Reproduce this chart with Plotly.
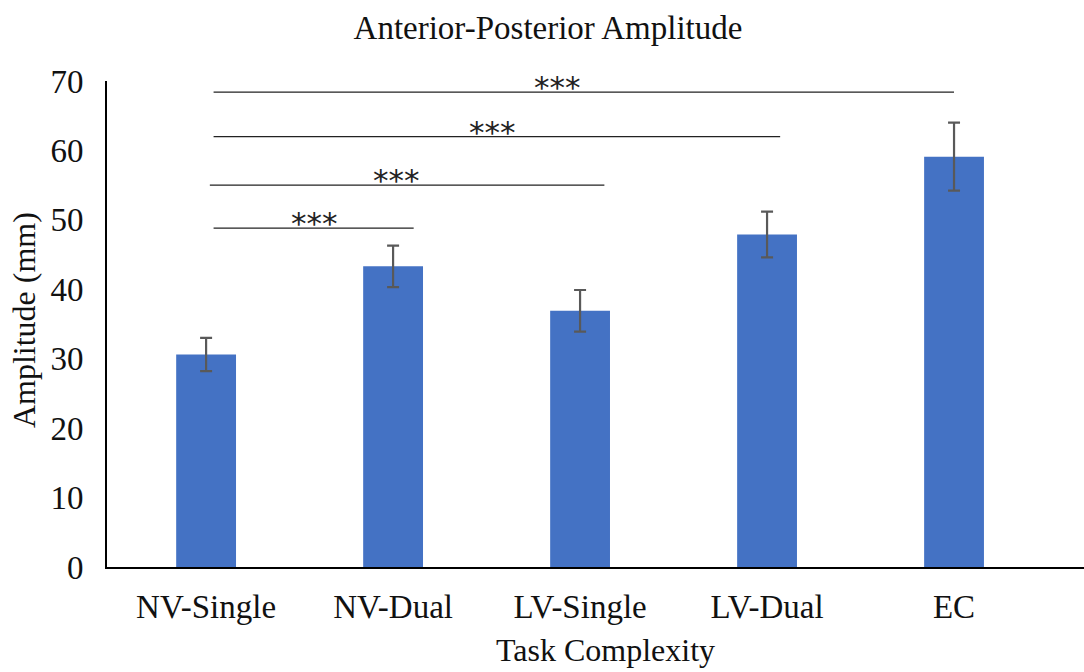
import plotly.graph_objects as go

# Mean anterior-posterior sway amplitude per task condition
categories = ["NV-Single", "NV-Dual", "LV-Single", "LV-Dual", "EC"]
amplitude = [30.6, 43.3, 36.9, 47.9, 59.1]
amplitude_err = [2.4, 3.0, 3.0, 3.3, 4.9]

# Pairwise significance brackets (category index span, height in mm, label)
sig_start = [0.04, 0.04, 0.02, 0.04]
sig_end = [4.0, 3.07, 2.13, 1.11]
sig_level = [68.4, 62.0, 55.0, 48.8]
sig_label_x = [1.88, 1.53, 1.02, 0.58]
sig_label = ["***", "***", "***", "***"]

y_ticks = [0, 10, 20, 30, 40, 50, 60, 70]

SERIF = "Liberation Serif, Times New Roman, serif"
BAR_BLUE = "#4472C4"

fig = go.Figure()
fig.add_trace(go.Bar(
    x=list(range(len(categories))),
    y=amplitude,
    width=0.32,
    marker=dict(color=BAR_BLUE, line=dict(width=0)),
    error_y=dict(type="data", array=amplitude_err, visible=True,
                 color="#595959", thickness=2.2, width=6),
    showlegend=False,
))

for x0, x1, lvl, lx, lab in zip(sig_start, sig_end, sig_level, sig_label_x, sig_label):
    fig.add_shape(type="line", xref="x", yref="y", x0=x0, x1=x1, y0=lvl, y1=lvl,
                  line=dict(color="#222222", width=1.3))
    fig.add_annotation(x=lx, y=lvl, xref="x", yref="y", text=lab, showarrow=False,
                       yanchor="bottom", yshift=-15,
                       font=dict(family="DejaVu Sans", size=31, color="#222222"))

# Axis titles placed as annotations
fig.add_annotation(text="Amplitude (mm)", xref="paper", yref="paper",
                   x=-0.0850, y=0.508, textangle=-90, showarrow=False,
                   xanchor="center", yanchor="middle",
                   font=dict(family=SERIF, size=32, color="#111111"))
fig.add_annotation(text="Task Complexity", xref="paper", yref="paper",
                   x=(605 - 107) / 977, y=-0.170, showarrow=False,
                   xanchor="center", yanchor="middle",
                   font=dict(family=SERIF, size=32, color="#111111"))

fig.update_layout(
    width=1084, height=672,
    margin=dict(l=107, r=0, t=81, b=105),
    paper_bgcolor="white", plot_bgcolor="white",
    title=dict(text="Anterior-Posterior Amplitude", x=548 / 1084, xanchor="center",
               y=1 - 27 / 672, yanchor="middle", yref="container",
               font=dict(family=SERIF, size=33, color="#111111")),
    xaxis=dict(
        range=[-0.53, 4.695],
        tickmode="array", tickvals=list(range(len(categories))), ticktext=categories,
        showgrid=False, zeroline=False,
        showline=True, linecolor="black", linewidth=2,
        ticks="", ticklabelstandoff=9,
        tickfont=dict(family=SERIF, size=33, color="#111111"),
    ),
    yaxis=dict(
        range=[0, 70], tickvals=y_ticks,
        showgrid=False, zeroline=False,
        showline=True, linecolor="black", linewidth=2,
        ticks="", ticklabelstandoff=15,
        tickfont=dict(family=SERIF, size=33, color="#111111"),
    ),
)

fig.write_html("out.html")
